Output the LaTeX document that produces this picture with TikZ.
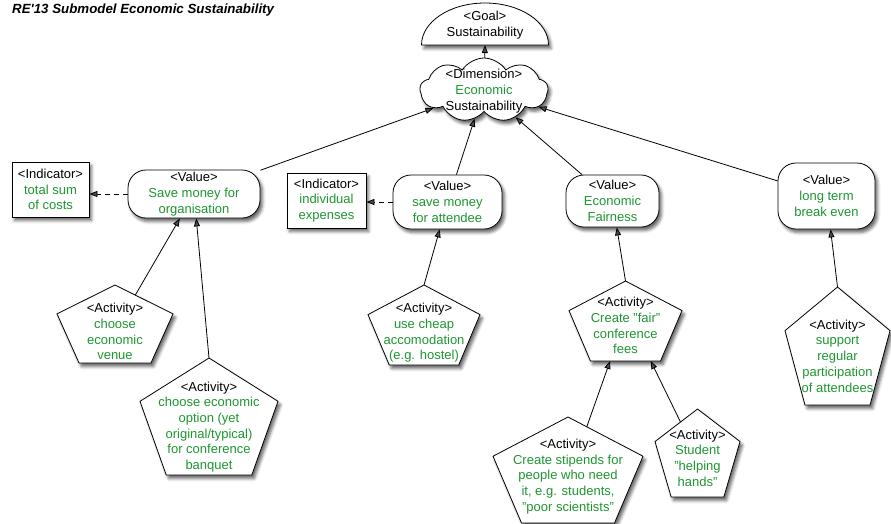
\documentclass[tikz,border=0pt]{standalone}
\usepackage{fontspec}
\setmainfont{Liberation Sans}
\usetikzlibrary{arrows.meta,calc,shapes.symbols,shadows.blur}
\definecolor{txtgreen}{RGB}{30,150,50}
\newcommand\grn[1]{\textcolor{txtgreen}{#1}}
\tikzset{
  every node/.style={font=\fontsize{13}{15.7}\selectfont},
  softshadow/.style={blur shadow={shadow xshift=2.5pt, shadow yshift=-3.5pt,
      shadow blur radius=3pt, shadow opacity=60}},
  outline/.style={draw=black, line width=0.8pt, fill=white, softshadow},
  box/.style 2 args={minimum width=#1, minimum height=#2, inner sep=0pt, outer sep=0pt},
  lbl/.style={align=center, inner sep=0pt},
  valuebox/.style={outline, rounded corners=18pt, align=center, inner sep=0pt},
  indbox/.style={outline, align=center, inner sep=0pt},
  arr/.style={line width=0.8pt, -{Triangle[length=8pt,width=6pt]}},
  dasharr/.style={arr, dash pattern=on 5pt off 4pt}
}
% pentagon drawn inside the bounding box of an empty node
\newcommand\pentshape[1]{%
  \coordinate (#1-top) at (#1.north);
  \coordinate (#1-ul) at ($(#1.north west)!0.37!(#1.south west)$);
  \coordinate (#1-ur) at ($(#1.north east)!0.37!(#1.south east)$);
  \coordinate (#1-ll) at ($(#1.south west)!0.19!(#1.south east)$);
  \coordinate (#1-lr) at ($(#1.south west)!0.81!(#1.south east)$);
  \draw[outline, line join=miter] (#1-top) -- (#1-ur) -- (#1-lr) -- (#1-ll) -- (#1-ul) -- cycle;
}
\begin{document}
\begin{tikzpicture}[x=1pt,y=-1pt]
\useasboundingbox (0,0) rectangle (891,523);

% title
\node[anchor=west, inner sep=0pt, font=\fontsize{13.3}{15}\selectfont\bfseries\itshape] (title) at (12,10)
  {RE\textquotesingle13 Submodel Economic Sustainability};

% goal (half ellipse)
\node[box={127pt}{42pt}] (goal) at (485,24) {};
\draw[outline] (goal.south west) arc[start angle=180, end angle=0, x radius=63.5pt, y radius=42pt] -- cycle;
\node[lbl] (goalt) at (485,25) {<Goal>\\Sustainability};

% dimension (cloud)
\node[cloud, cloud puffs=9, cloud puff arc=115, cloud ignores aspect,
      minimum width=128pt, minimum height=64pt, inner sep=0pt, outline] (dim) at (484,90) {};
\node[lbl] (dimt) at (484,91) {<Dimension>\\\grn{Economic}\\Sustainability};

% values
\node[valuebox, minimum width=132pt, minimum height=48pt] (v1) at (194,194)
  {<Value>\\\grn{Save money for}\\\grn{organisation}};
\node[valuebox, minimum width=109pt, minimum height=54pt] (v2) at (447.5,202)
  {<Value>\\\grn{save money}\\\grn{for attendee}};
\node[valuebox, minimum width=93pt, minimum height=52pt] (v3) at (612.5,201)
  {<Value>\\\grn{Economic}\\\grn{Fairness}};
\node[valuebox, minimum width=97pt, minimum height=66pt] (v4) at (826.5,196)
  {<Value>\\\grn{long term}\\\grn{break even}};

% indicators
\node[indbox, minimum width=77pt, minimum height=55pt] (i1) at (50.5,189.5)
  {<Indicator>\\\grn{total sum}\\\grn{of costs}};
\node[indbox, minimum width=79pt, minimum height=55pt] (i2) at (326.5,200.5)
  {<Indicator>\\\grn{individual}\\\grn{expenses}};

% activities
\node[box={116pt}{78pt}] (a1) at (115,324) {};
\pentshape{a1}
\node[lbl] (a1t) at (115,331.5) {<Activity>\\\grn{choose}\\\grn{economic}\\\grn{venue}};

\node[box={138pt}{117pt}] (a2) at (209,416.5) {};
\pentshape{a2}
\node[lbl] (a2t) at (209,427) {<Activity>\\\grn{choose economic}\\\grn{option (yet}\\\grn{original/typical)}\\\grn{for conference}\\\grn{banquet}};

\node[box={112pt}{80pt}] (a3) at (424,325) {};
\pentshape{a3}
\node[lbl] (a3t) at (424,333) {<Activity>\\\grn{use cheap}\\\grn{accomodation}\\\grn{(e.g. hostel)}};

\node[box={113pt}{80pt}] (a4) at (625.5,321) {};
\pentshape{a4}
\node[lbl] (a4t) at (625.5,325.5) {<Activity>\\\grn{Create "fair"}\\\grn{conference}\\\grn{fees}};

\node[box={150pt}{106pt}] (a5) at (568,470) {};
\pentshape{a5}
\node[lbl] (a5t) at (568,476.5) {<Activity>\\\grn{Create stipends for}\\\grn{people who need}\\\grn{it, e.g. students,}\\\grn{"poor scientists"}};

\node[box={85pt}{88pt}] (a6) at (697.5,453) {};
\pentshape{a6}
\node[lbl] (a6t) at (697.5,458) {<Activity>\\\grn{Student}\\\grn{"helping}\\\grn{hands"}};

\node[box={105pt}{118pt}] (a7) at (837.5,346) {};
\pentshape{a7}
\node[lbl] (a7t) at (837.5,356) {<Activity>\\\grn{support}\\\grn{regular}\\\grn{participation}\\\grn{of attendees}};

% connectors
\draw[arr] (dim) -- (goal.south);
\draw[arr] (v1) -- (dim);
\draw[arr] (v2) -- (dim);
\draw[arr] (v3) -- (dim);
\draw[arr] (v4) -- (dim);
\draw[dasharr] (v1.west) -- (v1.west -| i1.east);
\draw[dasharr] (v2.west) -- (v2.west -| i2.east);
\draw[arr] ($(a1-top)!0.35!(a1-ur)$) -- (v1);
\draw[arr] (a2-top) -- (v1);
\draw[arr] (a3-top) -- (v2);
\draw[arr] (a4-top) -- (v3);
\draw[arr] (a7-top) -- (v4);
\draw[arr] ($(a5-top)!0.25!(a5-ur)$) -- ($(a4-ll)!0.28!(a4-lr)$);
\draw[arr] ($(a6-top)!0.4!(a6-ul)$) -- ($(a4-ll)!0.86!(a4-lr)$);
\end{tikzpicture}
\end{document}
